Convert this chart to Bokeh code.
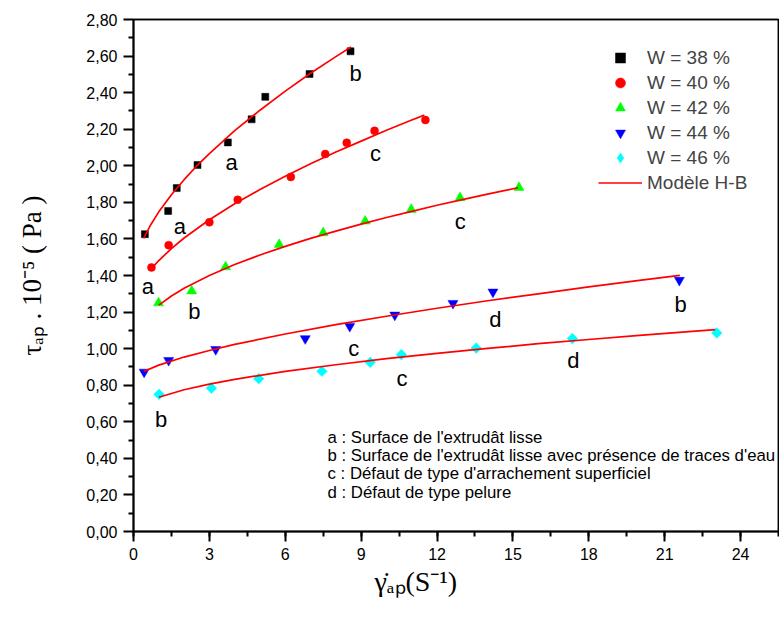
import numpy as np
from bokeh.plotting import figure
from bokeh.models import (Range1d, FixedTicker, SingleIntervalTicker, CustomJSTickFormatter,
                          Legend, LegendItem, ColumnDataSource, Title, LinearAxis)
from bokeh.core.properties import value
from bokeh.embed import file_html
from bokeh.resources import INLINE

# ---------------- data ----------------
series_names = ["W = 38 %", "W = 40 %", "W = 42 %", "W = 44 %", "W = 46 %"]

x38 = [0.45, 1.37, 1.71, 2.53, 3.73, 4.67, 5.21, 6.96, 8.58]
y38 = [1.626, 1.753, 1.878, 2.004, 2.128, 2.254, 2.377, 2.502, 2.626]
x40 = [0.71, 1.39, 3.00, 4.12, 6.22, 7.58, 8.43, 9.53, 11.54]
y40 = [1.444, 1.566, 1.691, 1.814, 1.939, 2.064, 2.126, 2.191, 2.250]
x42 = [0.99, 2.30, 3.64, 5.76, 7.50, 9.16, 10.98, 12.91, 15.24]
y42 = [1.250, 1.315, 1.447, 1.569, 1.633, 1.697, 1.761, 1.825, 1.881]
x44 = [0.42, 1.39, 3.25, 6.79, 8.55, 10.33, 12.63, 14.21, 21.58]
y44 = [0.872, 0.936, 0.996, 1.055, 1.122, 1.184, 1.248, 1.310, 1.374]
x46 = [1.01, 3.08, 4.95, 7.45, 9.36, 10.59, 13.55, 17.35, 23.06]
y46 = [0.750, 0.784, 0.836, 0.876, 0.925, 0.967, 1.003, 1.055, 1.086]

# Modèle H-B curves
hb38_x = [0.4, 0.7, 1.0, 1.5, 2.0, 2.5, 3.0, 4.0, 5.0, 6.0, 7.0, 8.0, 8.6]
hb38_y = [1.603, 1.682, 1.748, 1.842, 1.924, 1.999, 2.067, 2.192, 2.304, 2.408, 2.506, 2.597, 2.650]
hb40_x = [0.7, 1.0, 1.5, 2, 3, 4, 5, 6, 7, 8, 9, 10, 11, 11.5]
hb40_y = [1.436, 1.482, 1.547, 1.605, 1.705, 1.792, 1.870, 1.943, 2.011, 2.075, 2.135, 2.194, 2.250, 2.277]
hb42_x = [1.0, 1.5, 2, 3, 4, 5, 6, 7, 8, 9, 10, 11, 12, 13, 14, 15.2]
hb42_y = [1.238, 1.288, 1.330, 1.400, 1.460, 1.512, 1.559, 1.603, 1.643, 1.681, 1.717, 1.751, 1.784, 1.815, 1.845, 1.880]
hb44_x = [0.4, 1, 2, 3, 4, 6, 8, 10, 12, 14, 16, 18, 20, 21.6]
hb44_y = [0.875, 0.910, 0.954, 0.990, 1.023, 1.080, 1.131, 1.177, 1.221, 1.262, 1.300, 1.338, 1.373, 1.401]
hb46_x = [1, 2, 3, 4, 6, 8, 10, 12, 14, 16, 18, 20, 23]
hb46_y = [0.734, 0.775, 0.806, 0.832, 0.876, 0.912, 0.945, 0.974, 1.001, 1.027, 1.050, 1.073, 1.104]

# point annotations (letter, x, y)
note_letters = ["b", "a", "a", "a", "c", "b", "c", "c", "d", "b", "b", "c", "d"]
note_x = [8.78, 3.88, 1.83, 0.57, 9.57, 2.41, 12.92, 8.71, 14.31, 21.63, 1.09, 10.62, 17.39]
note_y = [2.503, 2.016, 1.668, 1.340, 2.068, 1.205, 1.695, 0.999, 1.158, 1.241, 0.612, 0.835, 0.935]

key_lines = ["a : Surface de l'extrudât  lisse",
             "b : Surface de l'extrudât  lisse avec présence de traces d'eau",
             "c : Défaut de type d'arrachement superficiel",
             "d : Défaut de type pelure"]
key_y = [0.5115, 0.413, 0.3145, 0.216]

y_title = "τₐₚ . 10⁻⁵ ( Pa )"
x_title = "γ̇ₐₚ(S⁻¹)"

y_tick_values = [0.0, 0.2, 0.4, 0.6, 0.8, 1.0, 1.2, 1.4, 1.6, 1.8, 2.0, 2.2, 2.4, 2.6, 2.8]
y_minor_values = [0.1, 0.3, 0.5, 0.7, 0.9, 1.1, 1.3, 1.5, 1.7, 1.9, 2.1, 2.3, 2.5, 2.7]
x_ticks_step = 3
X_MAX, Y_MAX = 25.5, 2.8

# ---------------- figure ----------------
W, H = 779, 619
FL, FB = 133, 531          # frame left / bottom in canvas pixels
p = figure(width=W, height=H, output_backend="svg", toolbar_location=None,
           x_range=Range1d(0, X_MAX), y_range=Range1d(0, Y_MAX),
           min_border_left=FL, min_border_right=1, min_border_top=19,
           min_border_bottom=H - FB)
p.background_fill_color = "white"
p.border_fill_color = "white"
p.grid.visible = False
p.outline_line_color = "black"
p.outline_line_width = 1.5

SANS = "Liberation Sans"
SERIF = "Liberation Serif"

for ax in (p.xaxis[0], p.yaxis[0]):
    ax.axis_line_width = 2
    ax.major_tick_line_width = 2
    ax.minor_tick_line_width = 2
    ax.major_tick_in = 0
    ax.major_tick_out = 10
    ax.minor_tick_in = 0
    ax.minor_tick_out = 5
    ax.major_label_text_font = SANS
    ax.major_label_text_font_size = "16px"
    ax.major_label_text_color = "black"
    ax.major_label_standoff = 6

p.xaxis.ticker = SingleIntervalTicker(interval=x_ticks_step, num_minor_ticks=2)
p.yaxis.ticker = FixedTicker(ticks=y_tick_values, minor_ticks=y_minor_values)
p.yaxis.formatter = CustomJSTickFormatter(code="return tick.toFixed(2).replace('.', ',');")

p.yaxis.axis_label = y_title
p.yaxis.axis_label_text_font = SERIF
p.yaxis.axis_label_text_font_size = "27px"
p.yaxis.axis_label_text_font_style = "normal"
p.yaxis.axis_label_text_color = "black"
p.yaxis.axis_label_standoff = 36

p.add_layout(Title(text=x_title, align="left", offset=241, text_font=SERIF,
                   text_font_size="28px", text_font_style="normal", text_color="black",
                   standoff=2), "below")

# top and right frame borders as bare axes (no tick marks, empty labels)
for side in ("above", "right"):
    bx = LinearAxis(ticker=FixedTicker(ticks=[1.0], minor_ticks=[]),
                    formatter=CustomJSTickFormatter(code="return '';"),
                    axis_line_width=1.5, axis_line_color="black",
                    major_tick_out=0, major_tick_in=0, minor_tick_out=0, minor_tick_in=0,
                    major_label_standoff=0, major_label_text_font_size="1px",
                    major_label_text_alpha=0)
    p.add_layout(bx, side)

# markers
specs = [
    (x38, y38, "square", "#000000", 7, 0.0),
    (x40, y40, "circle", "#ff0000", 8, 0.0),
    (x42, y42, "triangle", "#00ff00", 10, 0.0),
    (x44, y44, "inverted_triangle", "#0000ff", 10, 0.0),
    (x46, y46, "square", "#00ffff", 7.5, np.pi / 4),
]
scatter_r = []
for xs, ys, mk, col, sz, ang in specs:
    r = p.scatter(xs, ys, marker=mk, size=sz, angle=ang, fill_color=col, line_color=col,
                  line_width=0.5)
    scatter_r.append(r)

# legend proxy for the diamond symbol (a single non-plotted NaN point)
diamond_proxy = p.scatter([np.nan], [np.nan], marker="diamond", size=15, fill_color="#00ffff",
                          line_color="#00ffff", line_width=0.5)

line_r = []
for xs, ys in [(hb38_x, hb38_y), (hb40_x, hb40_y), (hb42_x, hb42_y),
               (hb44_x, hb44_y), (hb46_x, hb46_y)]:
    r = p.line(xs, ys, line_color="#ff0000", line_width=1.7)
    line_r.append(r)

legend_renderers = scatter_r[:4] + [diamond_proxy]
items = [LegendItem(label=n, renderers=[r]) for n, r in zip(series_names, legend_renderers)]
items.append(LegendItem(label="Modèle H-B", renderers=[line_r[1]]))
legend = Legend(items=items, location=(465, 336), glyph_width=44, glyph_height=25,
                label_height=25, spacing=0, padding=0, margin=0, label_standoff=5,
                label_text_font=SANS, label_text_font_size="19px",
                border_line_alpha=0, background_fill_alpha=0)
p.add_layout(legend, "center")

# letter annotations
src = ColumnDataSource(dict(x=note_x, y=note_y, t=note_letters))
p.text(x="x", y="y", text="t", source=src, text_font=value(SANS), text_font_size="22px",
       text_align="center", text_baseline="alphabetic", text_color="black")

# key text
ksrc = ColumnDataSource(dict(x=[7.67] * len(key_lines), y=key_y, t=key_lines))
p.text(x="x", y="y", text="t", source=ksrc, text_font=value(SANS), text_font_size="16.8px",
       text_align="left", text_baseline="alphabetic", text_color="black")

open("out.html", "w").write(file_html(p, INLINE))
